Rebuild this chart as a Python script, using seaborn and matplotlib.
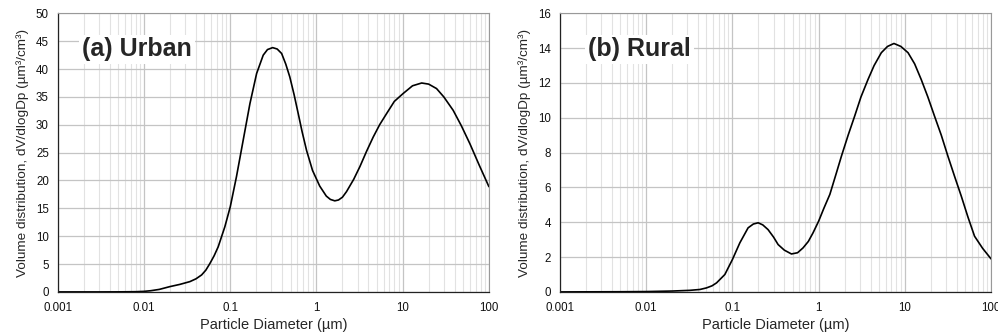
import matplotlib
matplotlib.use("Agg")
import matplotlib.pyplot as plt
import seaborn as sns
import pandas as pd
from matplotlib.ticker import LogLocator, FixedLocator, FuncFormatter, NullFormatter

sns.set_style("whitegrid")
plt.rcParams['font.family'] = ['Liberation Sans', 'DejaVu Sans']

# values
urban_d = [0.001, 0.003, 0.005, 0.008, 0.01, 0.012, 0.015, 0.0199, 0.026, 0.034, 0.04,
           0.0465, 0.052, 0.058, 0.065, 0.0724, 0.0865,
           0.1, 0.118, 0.141, 0.169, 0.202, 0.241, 0.27, 0.31, 0.35, 0.394, 0.44,
           0.49, 0.55, 0.614, 0.68, 0.767, 0.9, 1.09, 1.3, 1.45, 1.63, 1.8, 2.0, 2.23, 2.7,
           3.19, 3.8, 4.55, 5.4, 6.5, 8, 10.1, 13, 16.6, 20, 24.7, 30, 38.5, 48,
           60.2, 77, 100]
urban_v = [0, 0, 0.01, 0.04, 0.1, 0.22, 0.45, 0.95, 1.35, 1.85, 2.35,
           3.05, 3.9, 5.1, 6.5, 8.1, 11.7,
           15.3, 20.7, 27.2, 33.8, 39.2, 42.5, 43.5, 43.85, 43.6, 42.8, 40.9,
           38.6, 35.4, 32.0, 28.8, 25.4, 21.8, 19.0, 17.2, 16.6, 16.35, 16.5, 17.0, 18.0, 20.2,
           22.5, 25.2, 27.8, 30.0, 32.0, 34.2, 35.6, 37.0, 37.5, 37.3, 36.5, 35.0, 32.6, 29.8,
           26.6, 22.8, 18.9]

rural_d = [0.001, 0.005, 0.01, 0.02, 0.032, 0.042, 0.05, 0.058, 0.0655, 0.0817, 0.1, 0.122,
           0.152, 0.175, 0.199, 0.225, 0.259, 0.3, 0.339, 0.4, 0.484, 0.57, 0.66,
           0.76, 0.861, 1.0, 1.15, 1.35, 1.6, 1.84, 2.2, 2.62, 3.1, 3.74, 4.4,
           5.34, 6.3, 7.48, 9.0, 10.9, 13, 15.5, 18.5, 22.1, 26.5, 31.6, 38,
           45.2, 54, 64.4, 80, 100]
rural_v = [0, 0.01, 0.02, 0.05, 0.09, 0.14, 0.23, 0.35, 0.52, 1.0, 1.86, 2.82,
           3.68, 3.9, 3.97, 3.85, 3.58, 3.15, 2.72, 2.4, 2.18, 2.25, 2.53,
           2.9, 3.39, 4.06, 4.8, 5.6, 6.8, 7.8, 9.0, 10.1, 11.2, 12.2, 13.0,
           13.74, 14.1, 14.27, 14.1, 13.74, 13.1, 12.2, 11.2, 10.1, 9.0, 7.8, 6.6,
           5.5, 4.3, 3.2, 2.5, 1.9]

panels = [("(a) Urban", urban_d, urban_v, 50, 5, 0.056),
          ("(b) Rural", rural_d, rural_v, 16, 2, 0.065)]
x_ticks = [0.001, 0.01, 0.1, 1, 10, 100]
x_labels = ["0.001", "0.01", "0.1", "1", "10", "100"]

fig, axes = plt.subplots(1, 2, figsize=(9.98, 3.34), dpi=100)
fig.subplots_adjust(left=0.058, right=0.993, bottom=0.126, top=0.96, wspace=0.165)

for ax, (title, d, v, ymax, ystep, tx) in zip(axes, panels):
    df = pd.DataFrame({"d": d, "v": v})
    sns.lineplot(data=df, x="d", y="v", ax=ax, color="black", linewidth=1.2)
    ax.set_xscale("log")
    ax.set_xlim(0.001, 100)
    ax.set_ylim(0, ymax)
    ax.xaxis.set_major_locator(FixedLocator(x_ticks))
    ax.xaxis.set_major_formatter(FuncFormatter(lambda val, pos: x_labels[pos]))
    ax.xaxis.set_minor_locator(LogLocator(base=10, subs=range(2, 10)))
    ax.xaxis.set_minor_formatter(NullFormatter())
    ax.yaxis.set_major_locator(FixedLocator(list(range(0, ymax + 1, ystep))))
    ax.grid(which="major", axis="both", color="#c4c4c4", linewidth=0.9)
    ax.grid(which="minor", axis="x", color="#e2e2e2", linewidth=0.8)
    ax.tick_params(axis="both", which="major", labelsize=8.3, color="#444444", labelcolor="#111111")
    ax.tick_params(axis="x", which="major", length=2.5, pad=5)
    ax.tick_params(axis="y", which="major", length=5, pad=1.5)
    ax.tick_params(axis="x", which="minor", length=0)
    for side in ["top", "right"]:
        ax.spines[side].set_color("#999999")
        ax.spines[side].set_linewidth(0.8)
    for side in ["left", "bottom"]:
        ax.spines[side].set_color("#222222")
        ax.spines[side].set_linewidth(0.9)
    ax.set_xlabel("Particle Diameter (µm)", fontsize=10.5, labelpad=3)
    ax.set_ylabel("Volume distribution, dV/dlogDp (µm³/cm³)", fontsize=9.7, labelpad=5)
    ax.text(tx, 0.871, title, transform=ax.transAxes, fontsize=18, fontweight="bold",
            va="center", ha="left",
            bbox=dict(facecolor="white", edgecolor="none", pad=2))

fig.savefig("out.png", dpi=100)
